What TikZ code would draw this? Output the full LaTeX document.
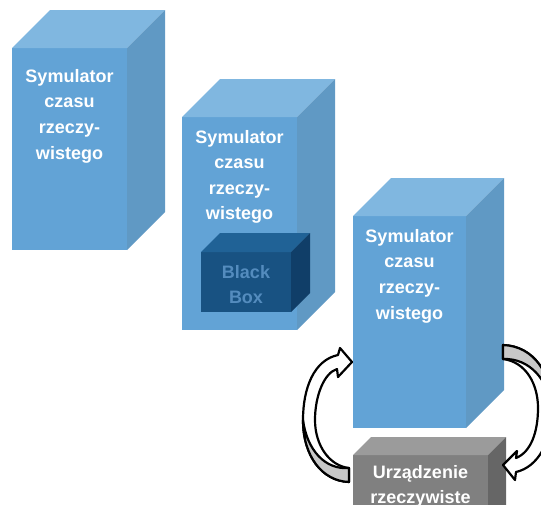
\documentclass[tikz,border=0pt]{standalone}
\usepackage{fontspec}
\setmainfont{Liberation Sans}
\definecolor{bfront}{RGB}{98,163,214}
\definecolor{btop}{RGB}{128,183,224}
\definecolor{bside}{RGB}{96,153,196}
\definecolor{kfront}{RGB}{24,82,130}
\definecolor{ktop}{RGB}{32,98,150}
\definecolor{kside}{RGB}{16,62,104}
\definecolor{ktext}{RGB}{84,140,190}
\definecolor{gfront}{RGB}{128,128,128}
\definecolor{gtop}{RGB}{155,155,155}
\definecolor{gside}{RGB}{102,102,102}
\definecolor{agray}{RGB}{200,200,200}
\newcommand\mycuboid[6]{%
  \fill[#6front] (#1,#2) rectangle (#3,#4);
  \fill[#6top] (#1,#2) -- ({#1+#5},{#2-#5}) -- ({#3+#5},{#2-#5}) -- (#3,#2) -- cycle;
  \fill[#6side] (#3,#2) -- ({#3+#5},{#2-#5}) -- ({#3+#5},{#4-#5}) -- (#3,#4) -- cycle;
}
\tikzset{
  lbl/.style={text=white, font=\fontsize{18}{22}\selectfont\bfseries, inner sep=0pt, anchor=base},
  blbl/.style={lbl, text=ktext},
  curvearrow/.style={draw=black, fill=white, line width=2.2pt, line join=round},
  crescent/.style={draw=black, fill=agray, line width=2.2pt, line join=round}
}
\begin{document}
\begin{tikzpicture}[x=1pt,y=-1pt]
\useasboundingbox (0,0) rectangle (541,504);
\clip (0,0) rectangle (541,504);
% box 1
\mycuboid{12}{48}{127}{250}{38}{b}
\foreach \t [count=\i] in {Symulator,czasu,rzeczy-,wistego}
  \node[lbl] (aline\i) at (69.5,{82+25.7*(\i-1)}) {\t};
% box 2
\mycuboid{182}{117}{297}{330}{38}{b}
\foreach \t [count=\i] in {Symulator,czasu,rzeczy-,wistego}
  \node[lbl] (bline\i) at (239.5,{143+25.5*(\i-1)}) {\t};
% black box
\mycuboid{201}{252}{291}{312}{19}{k}
\node[blbl] (black) at (246,278) {Black};
\node[blbl] (box) at (246,303) {Box};
% box 3
\mycuboid{353}{216}{466}{428}{38}{b}
\foreach \t [count=\i] in {Symulator,czasu,rzeczy-,wistego}
  \node[lbl] (cline\i) at (409.5,{242+25.7*(\i-1)}) {\t};
% gray box
\mycuboid{353}{455}{488}{530}{18}{g}
\node[lbl] (dev1) at (420.5,478) {Urządzenie};
\node[lbl] (dev2) at (420.5,503.5) {rzeczywiste};
% left curved arrow
\filldraw[curvearrow] (352,362) -- (340,348) -- (338,355)
  .. controls (314,360) and (303,388) .. (303,420)
  .. controls (303,456) and (322,481) .. (349,482)
  -- (349,468)
  .. controls (330,466) and (315,446) .. (315,420)
  .. controls (315,396) and (324,373) .. (337,369)
  -- (338,377) -- cycle;
\filldraw[crescent] (303,420)
  .. controls (303,456) and (322,481) .. (349,482)
  -- (349,468)
  .. controls (325,470) and (307,450) .. (303,420) -- cycle;
% right curved arrow
\filldraw[curvearrow] (503,465) -- (517,451) -- (516,458)
  .. controls (531,452) and (538,432) .. (538,408)
  .. controls (538,384) and (526,362) .. (503,359)
  -- (503,345)
  .. controls (534,346) and (552,374) .. (552,408)
  .. controls (552,442) and (538,467) .. (516,472)
  -- (515,480) -- cycle;
\filldraw[crescent] (503,345)
  .. controls (534,346) and (552,374) .. (552,408)
  .. controls (548,380) and (530,358) .. (503,359) -- cycle;
\end{tikzpicture}
\end{document}
